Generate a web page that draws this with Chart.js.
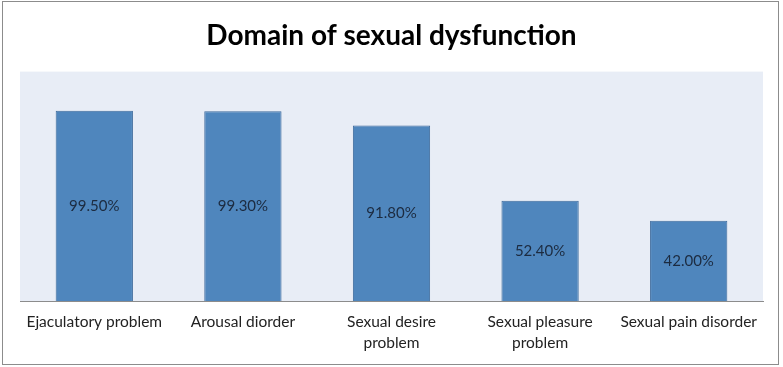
<!DOCTYPE html>
<html><head><meta charset="utf-8">
<script src="https://cdn.jsdelivr.net/npm/chart.js@4/dist/chart.umd.min.js"></script>
<style>
html,body{margin:0;padding:0;background:#fff;}
#wrap{position:relative;width:783px;height:367px;}
#frame{position:absolute;left:2px;top:1px;width:775px;height:362px;border:1px solid #8c8c8c;pointer-events:none;}
canvas{position:absolute;left:0;top:0;}
</style></head><body>
<div id="wrap"><canvas id="c" width="783" height="367"></canvas><div id="frame"></div></div>
<script>
const title = "Domain of sexual dysfunction";
const categories = [["Ejaculatory problem"], ["Arousal diorder"], ["Sexual desire", "problem"], ["Sexual pleasure", "problem"], ["Sexual pain disorder"]];
const values = [99.5, 99.3, 91.8, 52.4, 42.0];
const yMin = 0, yMax = 120;

const FONT = "Lato, 'Open Sans', sans-serif";

const plotBg = {
  id: 'plotBg',
  beforeDraw(chart) {
    const {ctx, chartArea: a} = chart;
    ctx.save();
    ctx.fillStyle = '#e8edf6';
    ctx.fillRect(a.left, a.top, a.right - a.left, a.bottom - a.top);
    ctx.restore();
  }
};
const barLabels = {
  id: 'barLabels',
  afterDatasetsDraw(chart) {
    const ctx = chart.ctx;
    const meta = chart.getDatasetMeta(0);
    ctx.save();
    ctx.font = "15px " + FONT;
    ctx.fillStyle = '#1c2b40';
    ctx.textAlign = 'center';
    ctx.textBaseline = 'middle';
    meta.data.forEach((bar, i) => {
      ctx.fillText(values[i].toFixed(2) + '%', bar.x, (bar.y + bar.base) / 2);
    });
    ctx.restore();
  }
};

new Chart(document.getElementById('c'), {
  type: 'bar',
  data: {
    labels: categories,
    datasets: [{
      data: values,
      backgroundColor: '#4f86bd',
      borderColor: '#3d6a9c',
      borderWidth: 1,
      categoryPercentage: 1,
      barPercentage: 0.52
    }]
  },
  options: {
    responsive: false,
    animation: false,
    layout: {padding: {left: 20, right: 20, top: 4, bottom: 0}},
    plugins: {
      legend: {display: false},
      tooltip: {enabled: false},
      title: {display: true, text: title, color: '#000',
        font: {family: FONT, size: 28, weight: 'bold'}, padding: {top: 15, bottom: 19}}
    },
    scales: {
      x: {
        grid: {display: false, drawTicks: false},
        border: {display: true, color: '#8c8c8c', width: 1},
        ticks: {color: '#222', font: {family: FONT, size: 15.5, lineHeight: 1.35}, padding: 11, maxRotation: 0, autoSkip: false},
        afterFit(s) { s.height = 66; }
      },
      y: {display: false, min: yMin, max: yMax}
    }
  },
  plugins: [plotBg, barLabels]
});
</script>
</body></html>
